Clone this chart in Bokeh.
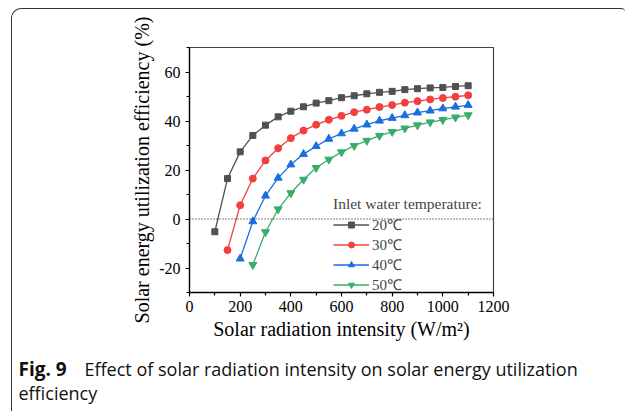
from bokeh.plotting import figure
from bokeh.layouts import column
from bokeh.models import Range1d, Span, Legend, FixedTicker, PrintfTickFormatter
from bokeh.core.properties import value
from bokeh.embed import file_html
from bokeh.resources import INLINE

# ---- data ----
x_20 = [100, 150, 200, 250, 300, 350, 400, 450, 500, 550, 600, 650, 700, 750, 800, 850, 900, 950, 1000, 1050, 1100]
y_20 = [-5.2, 16.5, 27.4, 34.1, 38.3, 41.7, 44.0, 45.8, 47.3, 48.3, 49.5, 50.3, 51.1, 51.7, 52.1, 52.8, 53.2, 53.5, 53.7, 54.1, 54.4]
x_30 = [150, 200, 250, 300, 350, 400, 450, 500, 550, 600, 650, 700, 750, 800, 850, 900, 950, 1000, 1050, 1100]
y_30 = [-12.7, 5.6, 16.5, 23.9, 28.9, 33.0, 36.1, 38.5, 40.5, 42.1, 43.6, 44.6, 45.7, 46.5, 47.5, 48.1, 48.8, 49.4, 49.9, 50.5]
x_40 = [200, 250, 300, 350, 400, 450, 500, 550, 600, 650, 700, 750, 800, 850, 900, 950, 1000, 1050, 1100]
y_40 = [-16.2, -1.0, 9.5, 16.8, 22.2, 26.5, 29.7, 32.7, 34.9, 36.8, 38.5, 40.1, 41.2, 42.3, 43.4, 44.2, 45.1, 45.8, 46.5]
x_50 = [250, 300, 350, 400, 450, 500, 550, 600, 650, 700, 750, 800, 850, 900, 950, 1000, 1050, 1100]
y_50 = [-18.7, -5.3, 4.0, 10.6, 16.1, 20.9, 24.3, 27.3, 29.9, 32.0, 34.0, 35.6, 37.0, 38.3, 39.5, 40.5, 41.5, 42.4]

series_labels = ["20\u2103", "30\u2103", "40\u2103", "50\u2103"]
x_major = [0, 200, 400, 600, 800, 1000, 1200]
x_minor = [100, 300, 500, 700, 900, 1100]
y_major = [-20, 0, 20, 40, 60]
y_minor = [-30, -10, 10, 30, 50, 70]

caption_bold = "Fig. 9"
caption_line1 = "Effect of solar radiation intensity on solar energy utilization"
caption_line2 = "efficiency"

colors = ["#515151", "#F14040", "#1A6FDF", "#37AD6B"]
markers = ["square", "circle", "triangle", "inverted_triangle"]
sizes = [6, 7, 8, 8]

SERIF = "Liberation Serif"

# page layout: column placed at (11, 8) with a 1px border -> content origin (12, 9)
p = figure(width=613, height=341, x_range=Range1d(0, 1200), y_range=Range1d(-30, 70),
           output_backend="svg", toolbar_location=None,
           min_border_left=177, min_border_right=132, min_border_top=38, min_border_bottom=58)
p.frame_align = False
p.grid.visible = False
p.background_fill_color = "white"
p.border_fill_alpha = 0
p.outline_line_color = "#444444"
p.outline_line_width = 1.2

p.xaxis.ticker = FixedTicker(ticks=x_major, minor_ticks=x_minor)
p.yaxis.ticker = FixedTicker(ticks=y_major, minor_ticks=y_minor)
p.yaxis.formatter = PrintfTickFormatter(format="%d")
for ax in (p.xaxis, p.yaxis):
    ax.axis_line_color = "black"
    ax.axis_line_width = 1.3
    ax.major_tick_line_color = "black"
    ax.minor_tick_line_color = "black"
    ax.major_tick_line_width = 1.2
    ax.minor_tick_line_width = 1.2
    ax.major_tick_in = 0
    ax.major_tick_out = 4
    ax.minor_tick_in = 0
    ax.minor_tick_out = 3
    ax.major_label_text_font = SERIF
    ax.major_label_text_font_size = "16px"
    ax.major_label_text_color = "black"
    ax.axis_label_text_font = SERIF
    ax.axis_label_text_font_size = "20px"
    ax.axis_label_text_font_style = "normal"
    ax.axis_label_text_color = "black"

p.xaxis.axis_label = "Solar radiation intensity (W/m\u00b2)"
p.yaxis.axis_label = "Solar energy utilization efficiency (%)"
p.xaxis.major_label_standoff = 4
p.xaxis.axis_label_standoff = 3
p.yaxis.major_label_standoff = 5
p.yaxis.axis_label_standoff = 3

zero = Span(location=0, dimension="width", line_color="black", line_width=1, line_dash="1 2")
p.add_layout(zero)

xs = [x_20, x_30, x_40, x_50]
ys = [y_20, y_30, y_40, y_50]
items = []
for i in range(4):
    r1 = p.line(xs[i], ys[i], line_color=colors[i], line_width=1.3)
    r2 = p.scatter(xs[i], ys[i], marker=markers[i], size=sizes[i], fill_color=colors[i], line_color=colors[i])
    items.append((series_labels[i], [r1, r2]))

legend = Legend(items=items, location=(144, -2), title="Inlet water temperature:",
                title_text_font=SERIF, title_text_font_size="15.5px", title_text_font_style="normal",
                title_standoff=1, label_text_font=SERIF, label_text_font_size="15px",
                glyph_width=36, glyph_height=15, label_height=15, spacing=0, label_standoff=3,
                padding=0, margin=0, border_line_color=None, background_fill_alpha=0)
p.add_layout(legend, "center")

# caption figure: data coordinates equal page pixels
cap = figure(width=613, height=61, x_range=Range1d(12, 625), y_range=Range1d(411, 350),
             output_backend="svg", toolbar_location=None, x_axis_location=None, y_axis_location=None,
             min_border=0)
cap.frame_align = False
cap.grid.visible = False
cap.outline_line_color = None
cap.background_fill_alpha = 0
cap.border_fill_alpha = 0
cap.text(x=[18], y=[368], text=[caption_bold], text_font=value("Open Sans"), text_font_size="19px",
         text_font_style="bold", text_baseline="middle", text_color="#111111")
cap.text(x=[84], y=[368], text=[caption_line1], text_font=value("Open Sans"), text_font_size="18px",
         text_baseline="middle", text_color="#111111")
cap.text(x=[18], y=[392], text=[caption_line2], text_font=value("Open Sans"), text_font_size="18px",
         text_baseline="middle", text_color="#111111")

layout = column(p, cap, spacing=0, margin=(8, 0, 0, 11),
                styles={"border-left": "1px solid #333333", "border-top": "1px solid #333333",
                        "border-top-left-radius": "10px", "border-top-right-radius": "4px"})

open("out.html", "w").write(file_html(layout, INLINE))
